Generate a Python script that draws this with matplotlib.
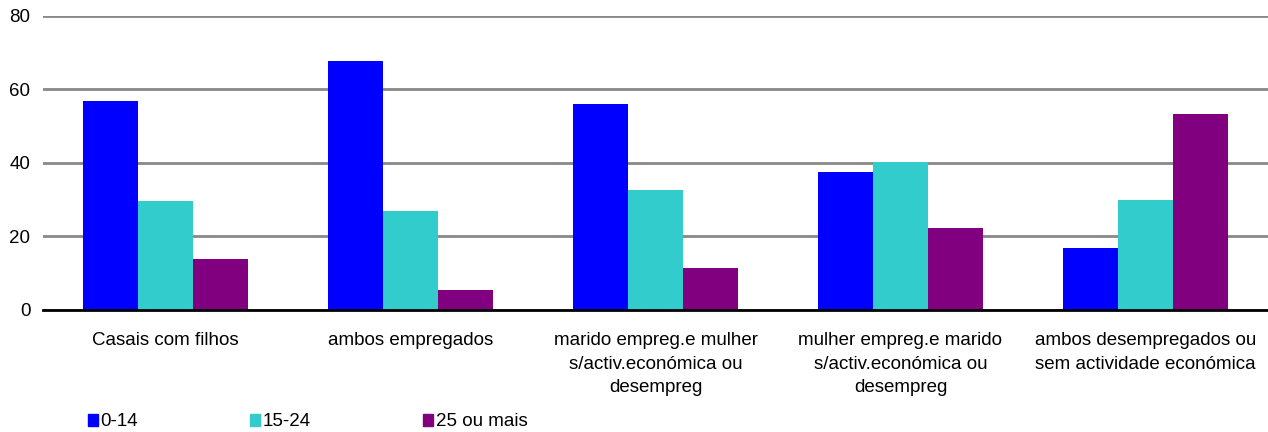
import numpy as np
import matplotlib.pyplot as plt
import matplotlib.patches as mpatches

plt.rcParams['font.family'] = ['Liberation Sans', 'DejaVu Sans']

# ==== data ====
categories = [
    "Casais com filhos",
    "ambos empregados",
    "marido empreg.e mulher\ns/activ.económica ou\ndesempreg",
    "mulher empreg.e marido\ns/activ.económica ou\ndesempreg",
    "ambos desempregados ou\nsem actividade económica",
]
series_names = ["0-14", "15-24", "25 ou mais"]
v_0_14 = [56.9, 67.6, 55.9, 37.6, 16.8]
v_15_24 = [29.7, 26.9, 32.7, 40.3, 29.9]
v_25_mais = [13.9, 5.4, 11.4, 22.3, 53.2]
yticks = [0, 20, 40, 60, 80]

colors = ['#0000FF', '#33CCCC', '#800080']
fs = 13.5

fig = plt.figure(figsize=(12.68, 4.32), dpi=100)
ax = fig.add_axes([43 / 1268, 1 - 310 / 432, 1 - 43 / 1268, (310 - 15.5) / 432])

x = np.arange(len(categories))
w = 0.225
for i, (vals, name) in enumerate(zip([v_0_14, v_15_24, v_25_mais], series_names)):
    ax.bar(x + (i - 1) * w, vals, width=w, color=colors[i], label=name, zorder=2)

ax.set_xlim(-0.5, len(categories) - 0.5)
ax.set_ylim(0, 80)
ax.set_yticks(yticks)
ax.set_yticklabels([str(t) for t in yticks], fontsize=fs)
ax.yaxis.grid(True, color='#888888', linewidth=2, zorder=0)
ax.set_axisbelow(True)
ax.tick_params(axis='y', length=0, pad=9)
ax.tick_params(axis='x', length=0, pad=16)
ax.set_xticks(x)
ax.set_xticklabels(categories, fontsize=fs, linespacing=1.5)

for s in ['top', 'right', 'left']:
    ax.spines[s].set_visible(False)
ax.spines['bottom'].set_color('black')
ax.spines['bottom'].set_linewidth(2)
ax.spines['bottom'].set_zorder(3)

handles = [mpatches.Patch(color=c, label=n) for c, n in zip(colors, series_names)]
fig.legend(handles=handles, loc='center left', bbox_to_anchor=(80 / 1268, 1 - 422 / 432),
           ncol=3, frameon=False, fontsize=fs, handlelength=0.55, handleheight=0.55,
           handletextpad=0.15, columnspacing=5.95, borderaxespad=0)

plt.savefig('out.png', dpi=100)
